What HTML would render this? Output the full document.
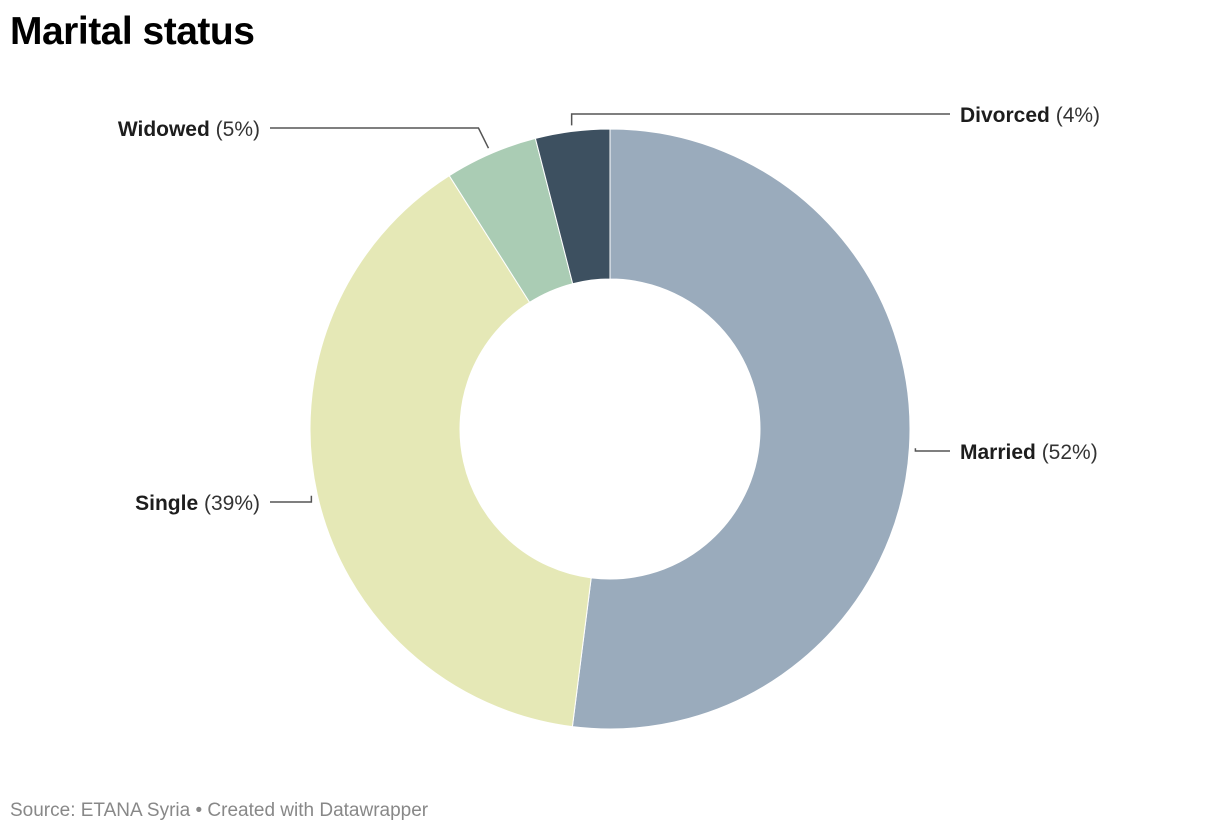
<!DOCTYPE html>
<html><head><meta charset="utf-8">
<style>
body{margin:0;background:#fff;width:1220px;height:836px;overflow:hidden;font-family:"Liberation Sans",sans-serif;}
#title{position:absolute;left:10px;top:10px;font-size:39px;font-weight:bold;color:#000;margin:0;letter-spacing:-0.5px}
#source{position:absolute;left:10px;top:800px;font-size:19px;color:#888}
svg{position:absolute;left:0;top:0}
</style></head><body>
<h1 id="title">Marital status</h1>
<svg id="chart" width="1220" height="836"></svg>
<div id="source">Source: ETANA Syria • Created with Datawrapper</div>
<script>
const categories=["Married","Single","Widowed","Divorced"];
const values=[52,39,5,4];
const colors=["#9aabbc","#e5e8b6","#aaccb4","#3d5060"];
const NS="http://www.w3.org/2000/svg";
const svg=document.getElementById('chart');
const cx=610,cy=429,R=300,r=150;
const total=values.reduce((a,b)=>a+b,0);
function pt(a,rad){return [cx+rad*Math.sin(a),cy-rad*Math.cos(a)];}
let acc=0;
const mids=[];
values.forEach((v,i)=>{
  const a0=acc/total*2*Math.PI; acc+=v; const a1=acc/total*2*Math.PI;
  const large=(a1-a0)>Math.PI?1:0;
  const [x0,y0]=pt(a0,R),[x1,y1]=pt(a1,R),[x2,y2]=pt(a1,r),[x3,y3]=pt(a0,r);
  const p=document.createElementNS(NS,'path');
  p.setAttribute('d',`M${x0},${y0}A${R},${R} 0 ${large} 1 ${x1},${y1}L${x2},${y2}A${r},${r} 0 ${large} 0 ${x3},${y3}Z`);
  p.setAttribute('fill',colors[i]);p.setAttribute('stroke','#fff');p.setAttribute('stroke-width','1');
  
  
  svg.appendChild(p);
  mids.push((a0+a1)/2);
});
// label layout: [side, labelY]
const layout=[["r",451],["l",502],["l",128],["r",114]];
layout.forEach(([side,ly],i)=>{
  const [ex,ey]=pt(mids[i],R+6);
  const g=document.createElementNS(NS,'g');
  
  
  const lx=side==="r"?950:270;
  const kx=side==="r"?Math.max(ex,cx):Math.min(ex,cx);
  const line=document.createElementNS(NS,'polyline');
  const kneeX=Math.abs(ly-ey)<12?ex:(side==="r"?Math.max(ex+35,kx):Math.min(ex-10,kx));
  line.setAttribute('points',`${ex},${ey} ${kneeX},${ly} ${lx},${ly}`);
  line.setAttribute('fill','none');line.setAttribute('stroke','#555');line.setAttribute('stroke-width','1.5');
  g.appendChild(line);
  const t=document.createElementNS(NS,'text');
  t.setAttribute('x',side==="r"?lx+10:lx-10);t.setAttribute('y',ly+8);
  t.setAttribute('text-anchor',side==="r"?'start':'end');
  t.setAttribute('font-size','21');t.setAttribute('fill','#1d1d1d');
  const b=document.createElementNS(NS,'tspan');b.setAttribute('font-weight','bold');b.textContent=categories[i];
  const s=document.createElementNS(NS,'tspan');s.textContent=' ('+values[i]+'%)';s.setAttribute('fill','#333');
  t.appendChild(b);t.appendChild(s);g.appendChild(t);
  svg.appendChild(g);
});
</script>
</body></html>
